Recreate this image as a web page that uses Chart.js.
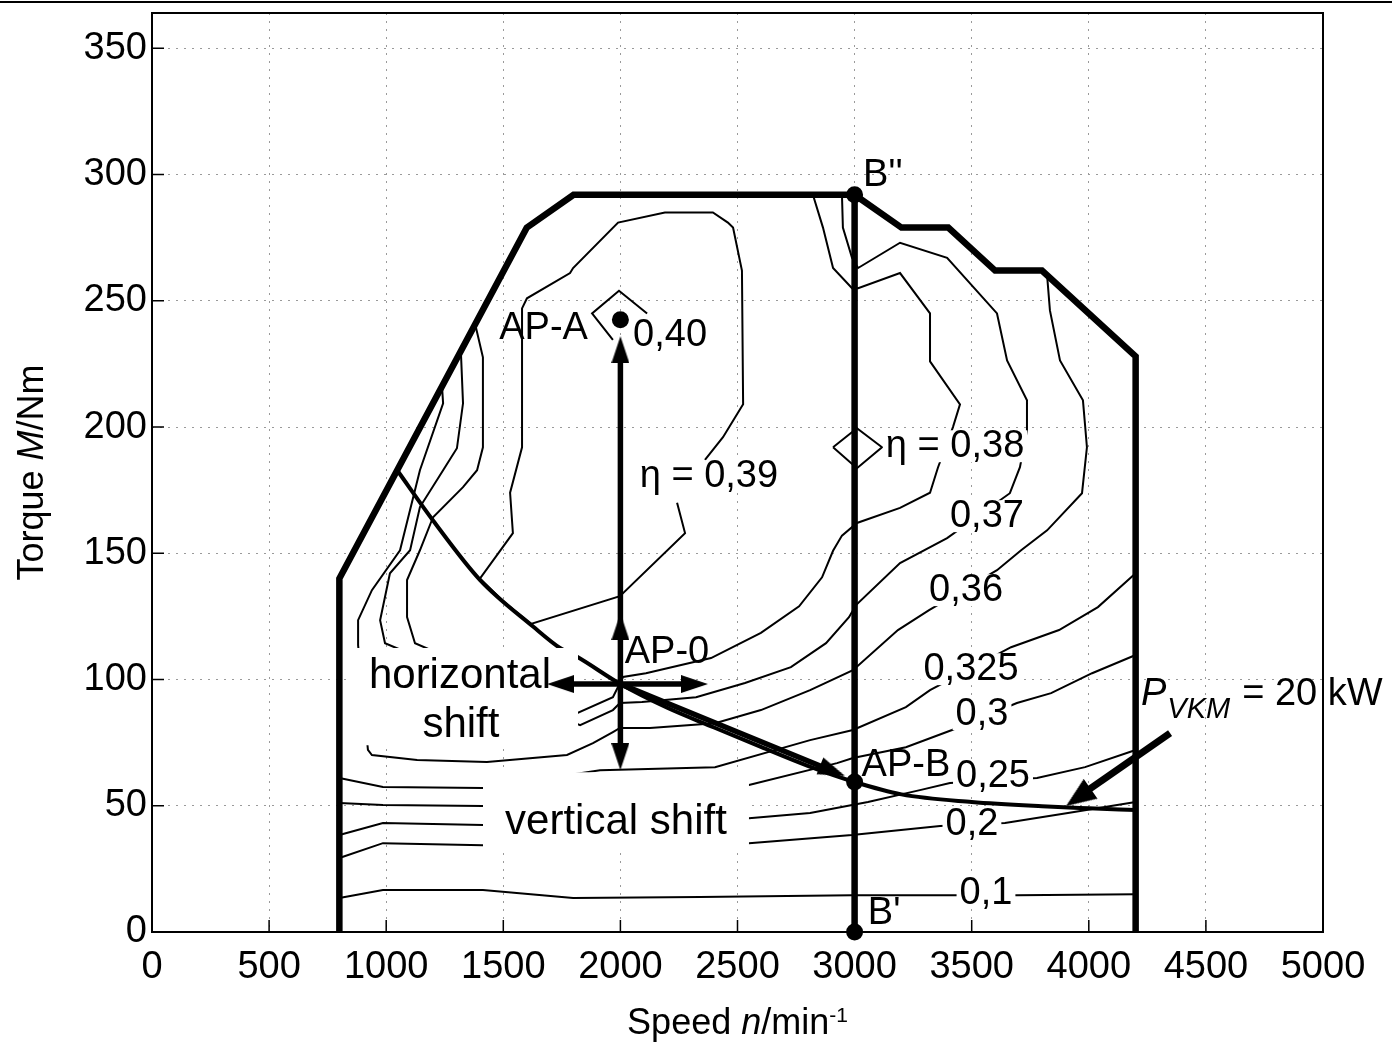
<!DOCTYPE html>
<html><head><meta charset="utf-8">
<script src="https://cdn.jsdelivr.net/npm/chart.js@4.4.1/dist/chart.umd.min.js"></script>
<style>
html,body{margin:0;padding:0;background:#fff;}
#wrap{position:relative;width:1392px;height:1043px;overflow:hidden;}
#topline{position:absolute;left:0;top:1px;width:1392px;height:2px;background:#000;}
canvas{display:block;}
</style></head><body>
<div id="wrap"><canvas id="c" width="1392" height="1043"></canvas><div id="topline"></div></div>
<script>
// ---------- data ----------
const speedTicks = [0,500,1000,1500,2000,2500,3000,3500,4000,4500,5000];
const speedTickLabels = ['0','500','1000','1500','2000','2500','3000','3500','4000','4500','5000'];
const torqueTicks = [0,50,100,150,200,250,300,350];
const torqueTickLabels = ['0','50','100','150','200','250','300','350'];

const fullLoadCurve = [[800,0],[800,140],[1600,279],[1800,292],[3000,292],[3200,279],[3400,279],[3600,262],[3800,262],[4200,228],[4200,0]];
const speed3000Line = [[3000,0],[3000,292]];
const power20kW = [[1050,182.5],[1200,163],[1400,139.5],[1627,121],[1742,112.5],[1815,109],[2000,98.2],[2200,88.8],[2400,81],[2600,73.3],[2800,65.8],[3000,59.4],[3200,54.5],[3500,51.5],[3800,49.8],[4000,49],[4200,48.3]];

const eta040 = [[2114,245],[1994,254],[1879,245],[1968,234.5]];
const eta039 = [[2242,170],[2276,158],[1998,133],[1618,122],[1500,131],[1400,140],[1541,158],[1529,174],[1580,192],[1580,247],[1601,251],[1785,261],[1798,263],[1990,281],[2190,285],[2395,285],[2459,281],[2481,279],[2519,262],[2524,209],[2438,196],[2361,187]];
const eta038 = [[2822,292],[2865,279],[2908,263],[2989,255],[3015,255],[3194,261],[3322,245],[3322,226],[3450,209],[3420,200],[3356,184],[3322,174],[3194,168],[3010,162],[2946,157],[2908,151],[2861,140.5],[2763,129],[2600,118.5],[2387,108.5],[2109,102.5],[2011,101],[1968,93],[1815,86.7],[1123,114.4],[1089,124.7],[1089,139.4],[1144,151.2],[1200,164.3],[1328,176.2],[1388,182.9],[1413,192],[1413,227.6],[1379,241.1]];
const eta038Island = [[2908,192],[3010,199.5],[3117,192],[3010,183.7],[2908,192]];
const eta037 = [[2946,292],[2950,279],[2989,267],[3015,263],[3194,273],[3395,267],[3608,245],[3651,226.4],[3736,210.6],[3736,198.7],[3706,184.1],[3663,173.8],[3395,156],[3194,146.1],[3006,129.5],[2976,124.7],[2878,114.4],[2728,104.9],[2532,98.6],[2323,93],[2092,91.1],[1998,90.7],[1968,87.9],[1828,81.9],[995,114.4],[974,123.5],[1016,142.1],[1102,151.2],[1144,168.3],[1243,182.9],[1302,191.6],[1328,209.4],[1319,229.6]];
const eta036 = [[3822,260],[3834,246.2],[3877,226.4],[3975,210.6],[3992,192],[3971,173.8],[3822,159.1],[3711,151.2],[3608,143.3],[3318,127.5],[3185,119.6],[2993,103.7],[2810,95.8],[2600,87.9],[2404,82.7],[2126,80.8],[1998,80.8],[1968,79.2],[1883,74.8],[1772,70.1],[1430,67.3],[1132,68.1],[939,70.1],[922,72.1],[880,113.6],[880,123.5],[939,135.4],[1059,151.2],[1144,182.9],[1243,209.4],[1238,216.5]];
const eta0325 = [[800,61],[986,57.4],[1413,57],[1913,64.1],[2404,65.3],[2810,76],[2993,80],[3219,89.1],[3322,95.8],[3668,112.8],[3873,119.6],[4039,128.7],[4200,142.1]];
const eta030 = [[800,51.1],[986,50.3],[1413,49.9],[2549,58.2],[2925,66.9],[2993,68.9],[3219,73.2],[3416,80],[3693,90.7],[3839,94.6],[4014,102.5],[4200,109.7]];
const eta025 = [[800,38.4],[986,43.2],[1413,42.4],[2549,45.1],[2810,47.1],[3057,51.5],[3279,56.2],[3407,59],[3779,61],[3984,65.3],[4200,72.1]];
const eta020 = [[800,29.3],[986,35.2],[1413,34.4],[2549,35.2],[2989,38.4],[3365,42],[3642,43.2],[3911,47.1],[4200,51.5]];
const eta010 = [[800,13.5],[986,16.6],[1413,16.6],[1798,13.5],[2340,13.9],[2989,14.6],[3433,14.6],[3693,14.6],[4200,15]];
const contourNames = ['0,40','0,39','0,38','0,38','0,37','0,36','0,325','0,3','0,25','0,2','0,1'];
const contours = [eta040,eta039,eta038,eta038Island,eta037,eta036,eta0325,eta030,eta025,eta020,eta010];

// operating points
const pointNames = ["B''","B'","AP-A","AP-B"];
const pointSpeed = [3000,3000,2000,3000];
const pointTorque = [292,0,242.5,59.4];

// arrows (shafts and tips)
const verticalShift = [[2000,69],[2000,231]];
const horizontalShift = [[1743,98.2],[2319,98.2]];
const shiftToB = [[2000,98.2],[2908,63.7]];
const powerPointer = [[4347,78.8],[3954,53.4]];
const arrowTipSpeed = [2000,2000,2000,1687,2374,2959];
const arrowTipTorque = [236,126.3,64.1,98.2,98.2,61.8];
const arrowTipAngle = [0,0,180,270,90,112];
const pointerTip = [[3903,49.9]];
const pointerAngle = [235];

// ---------- styling / layout ----------
const FONT = '"Liberation Sans", Arial, Helvetica, sans-serif';
const labelBoxes = [ [[850,112.5],[1819,112.5],74], [[1413,63.3],[2549,63.3],32.5] ];
const annotations = [
  {t:'AP-A', x:1672, y:239.1},
  {t:'0,40', x:2212, y:236.3},
  {t:'\u03b7 = 0,39', x:2378, y:180.5, bg:true},
  {t:'\u03b7 = 0,38', x:3429, y:192.4, bg:true},
  {t:'0,37', x:3565, y:164.7, bg:true},
  {t:'0,36', x:3476, y:135.4, bg:true},
  {t:'0,325', x:3497, y:104.1, bg:true},
  {t:'0,3', x:3544, y:86.3, bg:true},
  {t:'0,25', x:3591, y:61.4, bg:true},
  {t:'0,2', x:3501, y:42.4, bg:true},
  {t:'0,1', x:3561, y:15.4, bg:true},
  {t:'AP-0', x:2199, y:110.8},
  {t:'AP-B', x:3219, y:66.1},
  {t:"B''", x:3121, y:299.7},
  {t:"B'", x:3126, y:7.5},
  {t:'horizontal', x:1315, y:101.3, size:42},
  {t:'shift', x:1319, y:81.9, size:42},
  {t:'vertical shift', x:1981, y:43.5, size:42}
];
const powerLabelAnchor = {x:4223, y:89.9};

function pts(a){ return a.map(p=>({x:p[0], y:p[1]})); }
function headImage(w, L){
  const c = document.createElement('canvas');
  c.width = w; c.height = 2*L;
  const g = c.getContext('2d');
  g.fillStyle = '#000';
  g.beginPath(); g.moveTo(w/2, L); g.lineTo(w, 2*L); g.lineTo(0, 2*L); g.closePath(); g.fill();
  return c;
}
const head = headImage(18, 27);
const bigHead = headImage(24, 30);

const lineBase = {borderColor:'#000', pointRadius:0, tension:0, fill:false, showLine:true};
const datasets = [];
contours.forEach((c,i)=>datasets.push(Object.assign({}, lineBase, {label:'\u03b7 = '+contourNames[i], data:pts(c), borderWidth:2, order:10})));
datasets.push(Object.assign({}, lineBase, {label:'full load', data:pts(fullLoadCurve), borderWidth:6.5, order:8}));
datasets.push(Object.assign({}, lineBase, {label:'n = 3000', data:pts(speed3000Line), borderWidth:6.5, order:8}));
datasets.push(Object.assign({}, lineBase, {label:'P = 20 kW', data:pts(power20kW), borderWidth:4, cubicInterpolationMode:'monotone', order:8}));
labelBoxes.forEach((b,i)=>datasets.push(Object.assign({}, lineBase, {label:'box'+i, data:pts([b[0],b[1]]), borderWidth:0, borderColor:'rgba(0,0,0,0)', backgroundColor:'#fff', fill:{value:b[2]}, order:5})));
[verticalShift, horizontalShift, shiftToB].forEach((s,i)=>datasets.push(Object.assign({}, lineBase, {label:'shift'+i, data:pts(s), borderWidth:5.5, order:2})));
datasets.push(Object.assign({}, lineBase, {label:'pointer', data:pts(powerPointer), borderWidth:7, order:2}));
datasets.push({label:'arrow heads', data:arrowTipSpeed.map((v,i)=>({x:v, y:arrowTipTorque[i]})), showLine:false, pointStyle:head, pointRotation:arrowTipAngle, pointRadius:10, order:1});
datasets.push({label:'pointer head', data:pts(pointerTip), showLine:false, pointStyle:bigHead, pointRotation:pointerAngle, pointRadius:12, order:1});
datasets.push({label:'points', data:pointSpeed.map((v,i)=>({x:v, y:pointTorque[i]})), showLine:false, pointStyle:'circle', pointRadius:8.5, backgroundColor:'#000', borderColor:'#000', borderWidth:0, order:1, clip:false});

const framePlugin = {
  id:'frame',
  beforeDatasetsDraw(chart){
    const {ctx, chartArea:a, scales:{x,y}} = chart;
    ctx.save();
    ctx.strokeStyle='#000'; ctx.lineWidth=1.5;
    ctx.beginPath();
    speedTicks.forEach(v=>{ const px=x.getPixelForValue(v); ctx.moveTo(px,a.bottom); ctx.lineTo(px,a.bottom-12); });
    torqueTicks.forEach(v=>{ const py=y.getPixelForValue(v); ctx.moveTo(a.left,py); ctx.lineTo(a.left+12,py); });
    ctx.stroke();
    ctx.lineWidth=2;
    ctx.strokeRect(a.left, a.top, a.right-a.left, a.bottom-a.top);
    ctx.restore();
  }
};

function richText(ctx, parts, size){
  let w=0;
  parts.forEach(p=>{ ctx.font=(p.it?'italic ':'')+(p.size||size)+'px '+FONT; w+=ctx.measureText(p.t).width; });
  return w;
}
function drawRich(ctx, parts, size, x0, y0){
  let cx=x0;
  parts.forEach(p=>{ ctx.font=(p.it?'italic ':'')+(p.size||size)+'px '+FONT; ctx.fillText(p.t, cx, y0+(p.dy||0)); cx+=ctx.measureText(p.t).width; });
}

const annotPlugin = {
  id:'annot',
  afterDatasetsDraw(chart){
    const {ctx, chartArea:a, scales:{x,y}} = chart;
    ctx.save();
    ctx.textAlign='center'; ctx.textBaseline='middle';
    annotations.forEach(an=>{
      const size = an.size||38;
      ctx.font = size+'px '+FONT;
      const px=x.getPixelForValue(an.x), py=y.getPixelForValue(an.y);
      if(an.bg){
        const w=ctx.measureText(an.t).width;
        ctx.fillStyle='#fff';
        ctx.fillRect(px-w/2-3, py-size*0.42, w+6, size*0.84);
      }
      ctx.fillStyle='#000';
      ctx.fillText(an.t, px, py);
    });
    // P_VKM label
    ctx.textAlign='left'; ctx.textBaseline='alphabetic';
    const lx=x.getPixelForValue(powerLabelAnchor.x), ly=y.getPixelForValue(powerLabelAnchor.y);
    ctx.font='italic 38px '+FONT; ctx.fillText('P', lx, ly);
    let cx = lx + ctx.measureText('P').width + 1;
    ctx.font='italic 29px '+FONT; ctx.fillText('VKM', cx, ly+13);
    cx += ctx.measureText('VKM').width + 12;
    ctx.font='38px '+FONT; ctx.fillText('= 20 kW', cx, ly);
    // axis titles
    const xParts=[{t:'Speed '},{t:'n',it:true},{t:'/min'},{t:'-1',size:21,dy:-12}];
    const xw=richText(ctx,xParts,36);
    drawRich(ctx,xParts,36,(a.left+a.right)/2-xw/2,1034);
    const yParts=[{t:'Torque '},{t:'M',it:true},{t:'/Nm'}];
    const yw=richText(ctx,yParts,36);
    ctx.translate(43,(a.top+a.bottom)/2); ctx.rotate(-Math.PI/2);
    drawRich(ctx,yParts,36,-yw/2,0);
    ctx.restore();
  }
};

new Chart(document.getElementById('c'), {
  type:'line',
  data:{datasets},
  options:{
    responsive:false, animation:false, events:[],
    layout:{padding:{top:12,right:69,bottom:0,left:0}},
    plugins:{legend:{display:false}, tooltip:{enabled:false}, title:{display:false}},
    scales:{
      x:{type:'linear', min:0, max:5000,
        afterBuildTicks:s=>{ s.ticks = speedTicks.map(v=>({value:v})); },
        afterFit:s=>{ s.height=111; s.paddingLeft=0; s.paddingRight=0; },
        ticks:{callback:v=>speedTickLabels[speedTicks.indexOf(v)], font:{family:FONT,size:38}, color:'#000', padding:13, maxRotation:0, autoSkip:false},
        grid:{color:'#9a9a9a', lineWidth:1, drawTicks:false},
        border:{display:false, dash:[2,6]},
        title:{display:false}
      },
      y:{type:'linear', min:0, max:364,
        afterBuildTicks:s=>{ s.ticks = torqueTicks.map(v=>({value:v})); },
        afterFit:s=>{ s.width=152; s.paddingTop=0; s.paddingBottom=0; },
        ticks:{callback:v=>torqueTickLabels[torqueTicks.indexOf(v)], font:{family:FONT,size:38}, color:'#000', padding:5, autoSkip:false},
        grid:{color:'#9a9a9a', lineWidth:1, drawTicks:false},
        border:{display:false, dash:[2,6]},
        title:{display:false}
      }
    }
  },
  plugins:[framePlugin, annotPlugin]
});
</script></body></html>
